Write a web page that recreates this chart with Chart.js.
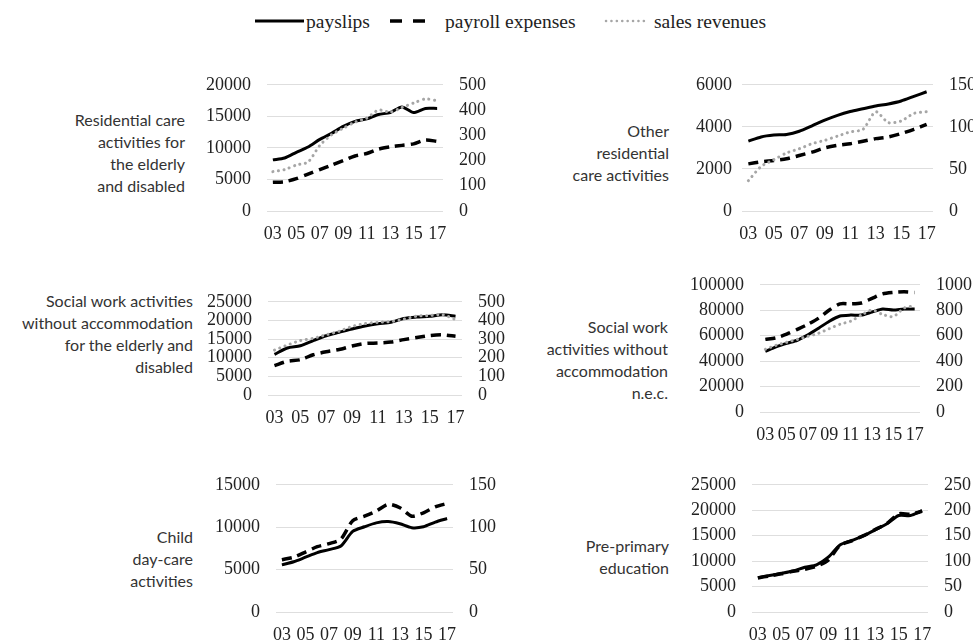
<!DOCTYPE html>
<html>
<head>
<meta charset="utf-8">
<script src="https://cdn.jsdelivr.net/npm/chart.js@4"></script>
<style>
  body { margin: 0; background: #fff; width: 973px; height: 640px; position: relative; overflow: hidden; }
  canvas { position: absolute; }
  .title { position: absolute; font-family: Lato, "Noto Sans", sans-serif; font-size: 16px; line-height: 22px; color: #333; text-align: right; }
  .legend { position: absolute; top: 0; left: 0; width: 973px; height: 45px; }
  .legend span { position: absolute; top: 11px; font-family: "Liberation Serif", serif; font-size: 19.5px; color: #222; line-height: 22px; }
  .legend svg { position: absolute; top: 0; left: 0; }
</style>
</head>
<body>
<div class="legend">
  <svg width="973" height="45">
    <line x1="255" y1="21" x2="304" y2="21" stroke="#000" stroke-width="3"/>
    <line x1="390" y1="21" x2="426" y2="21" stroke="#000" stroke-width="3.5" stroke-dasharray="12 11"/>
    <line x1="606" y1="21" x2="648" y2="21" stroke="#a6a6a6" stroke-width="2.5" stroke-linecap="round" stroke-dasharray="0.1 5.3"/>
  </svg>
  <span style="left:306px">payslips</span>
  <span style="left:445px">payroll expenses</span>
  <span style="left:654px">sales revenues</span>
</div>

<script>
const years = ['03', '04', '05', '06', '07', '08', '09', '10', '11', '12', '13', '14', '15', '16', '17'];

// Residential care activities for the elderly and disabled
const resElderlyPayslips = [8100, 8400, 9300, 10150, 11350, 12300, 13400, 14200, 14600, 15300, 15600, 16500, 15600, 16250, 16250];
const resElderlyPayroll  = [114, 116, 128, 146, 164, 182, 200, 218, 228, 245, 254, 260, 266, 281, 276];
const resElderlySales    = [156, 164, 182, 194, 260, 302, 328, 352, 368, 400, 392, 410, 428, 444, 437];

// Other residential care activities
const otherResPayslips = [3320, 3520, 3610, 3640, 3790, 4050, 4320, 4550, 4730, 4860, 4990, 5090, 5230, 5450, 5670];
const otherResPayroll  = [56, 58.5, 60, 62, 66, 70, 75, 78, 80, 83, 86, 88, 92, 97, 103];
const otherResSales    = [36, 53, 61, 69, 74, 80, 84, 89, 94, 97, 118, 105, 107, 116, 118];

// Social work activities without accommodation for the elderly and disabled
const socElderlyPayslips = [10900, 12600, 13200, 14600, 15900, 16800, 17700, 18500, 19100, 19500, 20500, 20900, 21100, 21500, 21100];
const socElderlyPayroll  = [158, 181, 189, 216, 232, 244, 263, 276, 279, 284, 297, 308, 319, 323, 315];
const socElderlySales    = [241, 268, 292, 304, 323, 342, 368, 383, 390, 394, 407, 423, 426, 431, 405];

// Social work activities without accommodation n.e.c.
const socNecPayslips = [47600, 51200, 54000, 56400, 60700, 65900, 71400, 75500, 76200, 76200, 78600, 81000, 80200, 81000, 81000];
const socNecPayroll  = [571, 583, 612, 650, 690, 738, 802, 850, 850, 857, 893, 929, 940, 945, 940];
const socNecSales    = [493, 524, 548, 571, 595, 619, 655, 690, 714, 762, 802, 767, 750, 817, 836];

// Child day-care activities
const childCarePayslips = [5560, 5920, 6460, 7000, 7360, 7790, 9510, 10050, 10510, 10660, 10400, 9940, 10050, 10600, 11020];
const childCarePayroll  = [61.7, 64.6, 70.7, 77, 80.7, 86, 107.7, 113, 119, 127, 123, 113, 117, 124, 128];
const childCareSales    = [];

// Pre-primary education
const prePrimaryPayslips = [6760, 7180, 7600, 8070, 8790, 9270, 10770, 13160, 14050, 14950, 16150, 17340, 18960, 18960, 19920];
const prePrimaryPayroll  = [67, 71, 75, 80, 84, 90, 102, 131, 140, 150, 162, 174, 193, 192, 198];
const prePrimarySales    = [];

const panels = [
  { title: ['Residential care', 'activities for', 'the elderly', 'and disabled'],
    payslips: resElderlyPayslips, payroll: resElderlyPayroll, sales: resElderlySales,
    leftMax: 20000, leftStep: 5000, rightMax: 500, rightStep: 100,
    gl: 267, gr: 443, gt: 72, gb: 211, titleRight: 185, titleTop: 109, padL: 16 },
  { title: ['Other', 'residential', 'care activities'],
    payslips: otherResPayslips, payroll: otherResPayroll, sales: otherResSales,
    leftMax: 6000, leftStep: 2000, rightMax: 150, rightStep: 50,
    gl: 742, gr: 933, gt: 72, gb: 211, titleRight: 669, titleTop: 120, padL: 10 },
  { title: ['Social work activities', 'without accommodation', 'for the elderly and', 'disabled'],
    payslips: socElderlyPayslips, payroll: socElderlyPayroll, sales: socElderlySales,
    leftMax: 25000, leftStep: 5000, rightMax: 500, rightStep: 100,
    gl: 268, gr: 462, gt: 289, gb: 395, titleRight: 193, titleTop: 290, padL: 16 },
  { title: ['Social work', 'activities without', 'accommodation', 'n.e.c.'],
    payslips: socNecPayslips, payroll: socNecPayroll, sales: socNecSales,
    leftMax: 100000, leftStep: 20000, rightMax: 1000, rightStep: 200,
    gl: 760, gr: 920, gt: 272, gb: 412, titleRight: 668, titleTop: 316, padL: 16 },
  { title: ['Child', 'day-care', 'activities'],
    payslips: childCarePayslips, payroll: childCarePayroll, sales: childCareSales,
    leftMax: 15000, leftStep: 5000, rightMax: 150, rightStep: 50,
    gl: 276, gr: 453, gt: 472, gb: 612, titleRight: 193, titleTop: 526, padL: 16 },
  { title: ['Pre-primary', 'education'],
    payslips: prePrimaryPayslips, payroll: prePrimaryPayroll, sales: prePrimarySales,
    leftMax: 25000, leftStep: 5000, rightMax: 250, rightStep: 50,
    gl: 752, gr: 928, gt: 472, gb: 612, titleRight: 669, titleTop: 535, padL: 16 }
];

const LW = 80, RW = 60, XH = 36, TOP = 14;
const tickFont = { family: '"Liberation Serif", serif', size: 18 };

panels.forEach(function (p) {
  const t = document.createElement('div');
  t.className = 'title';
  t.style.right = (973 - p.titleRight) + 'px';
  t.style.top = p.titleTop + 'px';
  t.innerHTML = p.title.join('<br>');
  document.body.appendChild(t);

  const cv = document.createElement('canvas');
  const w = LW + (p.gr - p.gl) + RW;
  const h = TOP + (p.gb - p.gt) + XH;
  cv.width = w; cv.height = h;
  cv.style.left = (p.gl - LW) + 'px';
  cv.style.top = (p.gt - TOP) + 'px';
  cv.style.width = w + 'px'; cv.style.height = h + 'px';
  document.body.appendChild(cv);

  const datasets = [];
  if (p.sales.length) datasets.push({
    label: 'sales revenues', data: p.sales, yAxisID: 'yR',
    borderColor: '#a6a6a6', borderWidth: 3, borderDash: [0.1, 5.5], borderCapStyle: 'round',
    pointRadius: 0, tension: 0.25, fill: false
  });
  datasets.push({
    label: 'payroll expenses', data: p.payroll, yAxisID: 'yR',
    borderColor: '#000', borderWidth: 3.5, borderDash: [10, 6],
    pointRadius: 0, tension: 0.25, fill: false
  });
  datasets.push({
    label: 'payslips', data: p.payslips, yAxisID: 'yL',
    borderColor: '#000', borderWidth: 3,
    pointRadius: 0, tension: 0.25, fill: false
  });

  new Chart(cv, {
    type: 'line',
    data: { labels: years, datasets: datasets },
    options: {
      responsive: false,
      animation: false,
      devicePixelRatio: 1,
      layout: { padding: { top: TOP, left: 0, right: 0, bottom: 0 } },
      plugins: { legend: { display: false }, tooltip: { enabled: false } },
      scales: {
        x: {
          offset: true,
          grid: { display: false, drawTicks: false },
          border: { display: false },
          ticks: {
            autoSkip: false, maxRotation: 0, padding: 12, color: '#222', font: tickFont,
            callback: function (v, i) { return i % 2 === 0 ? years[i] : ''; }
          },
          afterFit: function (s) { s.height = XH; }
        },
        yL: {
          position: 'left', min: 0, max: p.leftMax,
          grid: { color: '#dedede', lineWidth: 1, drawTicks: false },
          border: { display: false },
          ticks: { stepSize: p.leftStep, autoSkip: false, padding: p.padL, color: '#222', font: tickFont,
            callback: function (v) { return String(v); } },
          afterFit: function (s) { s.width = LW; }
        },
        yR: {
          position: 'right', min: 0, max: p.rightMax,
          grid: { display: false, drawTicks: false },
          border: { display: false },
          ticks: { stepSize: p.rightStep, autoSkip: false, padding: 16, color: '#222', font: tickFont,
            callback: function (v) { return String(v); } },
          afterFit: function (s) { s.width = RW; }
        }
      }
    }
  });
});
</script>
</body>
</html>
